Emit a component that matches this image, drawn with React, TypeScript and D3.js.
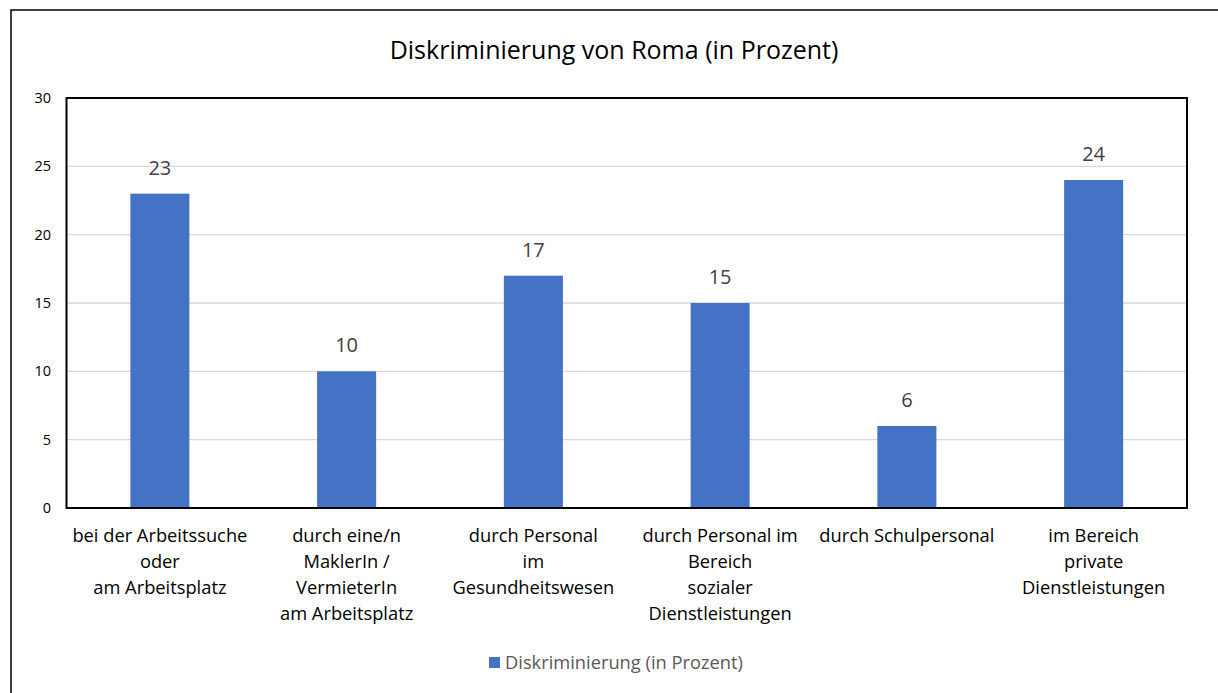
import React from 'react';
import * as d3 from 'd3';

const categories: string[][] = [
  ['bei der Arbeitssuche', 'oder', 'am Arbeitsplatz'],
  ['durch eine/n', 'MaklerIn /', 'VermieterIn', 'am Arbeitsplatz'],
  ['durch Personal', 'im', 'Gesundheitswesen'],
  ['durch Personal im', 'Bereich', 'sozialer', 'Dienstleistungen'],
  ['durch Schulpersonal'],
  ['im Bereich', 'private', 'Dienstleistungen'],
];
const values = [23, 10, 17, 15, 6, 24];
const yTicks = [0, 5, 10, 15, 20, 25, 30];
const title = 'Diskriminierung von Roma (in Prozent)';
const seriesName = 'Diskriminierung (in Prozent)';

const W = 1218;
const H = 693;
const FONT = '"Open Sans", "Noto Sans", sans-serif';

export default function App() {
  const plot = { left: 66.5, top: 98, right: 1187, bottom: 508 };

  const x = d3
    .scaleBand<number>()
    .domain(d3.range(values.length))
    .range([plot.left, plot.right])
    .paddingInner(0.684)
    .paddingOuter(0.342);

  const y = d3.scaleLinear().domain([0, 30]).range([plot.bottom, plot.top]);

  const barColor = '#4472c4';

  return (
    <div style={{ position: 'absolute', left: 0, top: 0 }}>
      <svg width={W} height={H} style={{ display: 'block' }} fontFamily={FONT}>
        <rect x={0} y={0} width={W} height={H} fill="#fff" />
        {/* outer chart frame (runs off the right and bottom edge) */}
        <rect x={11} y={10} width={W} height={H} fill="none" stroke="#000" strokeWidth={1.5} />

        <text x={614} y={59} textAnchor="middle" fontSize={25} fill="#000">
          {title}
        </text>

        {/* gridlines */}
        {yTicks.slice(1, -1).map(t => (
          <line key={t} x1={plot.left} x2={plot.right} y1={y(t)} y2={y(t)} stroke="#d9d9d9" strokeWidth={1.3} />
        ))}

        {/* y tick labels */}
        {yTicks.map(t => (
          <text key={t} x={51} y={y(t) + 5} textAnchor="end" fontSize={14.5} fill="#000">
            {t}
          </text>
        ))}

        {/* bars */}
        {values.map((v, i) => (
          <rect key={i} x={x(i)} y={y(v)} width={x.bandwidth()} height={y(0) - y(v)} fill={barColor} />
        ))}

        {/* data labels */}
        {values.map((v, i) => (
          <text
            key={i}
            x={(x(i) || 0) + x.bandwidth() / 2}
            y={y(v) - 19}
            textAnchor="middle"
            fontSize={20}
            fill="#404040"
          >
            {v}
          </text>
        ))}

        {/* plot border */}
        <rect
          x={plot.left}
          y={plot.top}
          width={plot.right - plot.left}
          height={plot.bottom - plot.top}
          fill="none"
          stroke="#000"
          strokeWidth={2}
        />

        {/* category labels */}
        {categories.map((lines, i) => (
          <text
            key={i}
            x={(x(i) || 0) + x.bandwidth() / 2}
            y={542}
            textAnchor="middle"
            fontSize={18.3}
            fill="#000"
          >
            {lines.map((l, j) => (
              <tspan key={j} x={(x(i) || 0) + x.bandwidth() / 2} dy={j === 0 ? 0 : 26}>
                {l}
              </tspan>
            ))}
          </text>
        ))}

        {/* legend */}
        <rect x={489} y={657} width={11} height={11} fill={barColor} />
        <text x={505} y={669} fontSize={18.3} fill="#595959">
          {seriesName}
        </text>
      </svg>
    </div>
  );
}
